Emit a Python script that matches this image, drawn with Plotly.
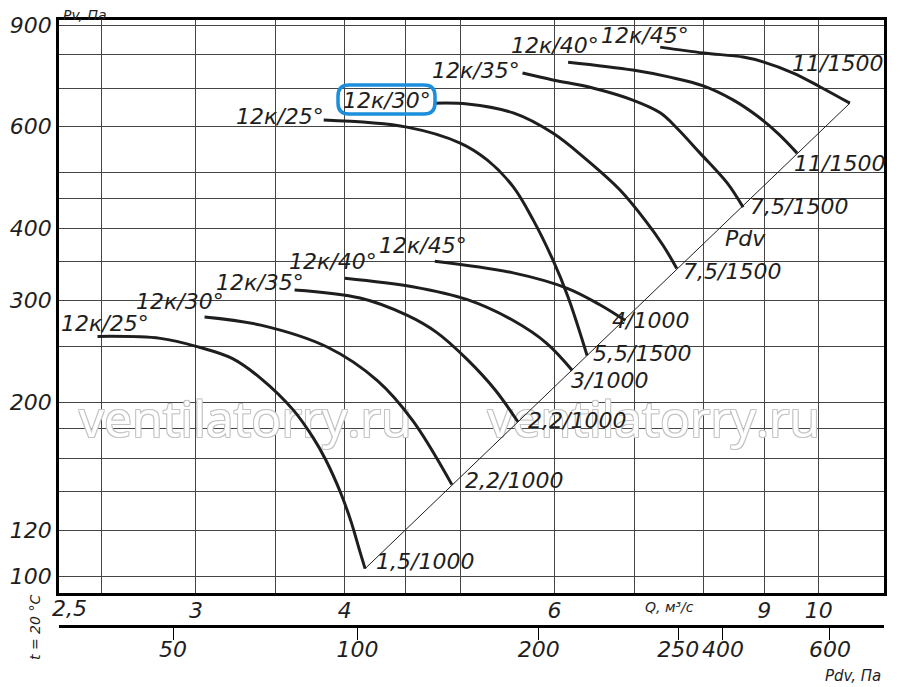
import plotly.graph_objects as go

# Q, m3/s  and  Pv, Pa (fan 12K, 1000 and 1500 rpm)
Q_25_1000 = [2.48, 2.80, 3.02, 3.22, 3.40, 3.62, 3.76, 3.855, 3.97, 4.05, 4.12, 4.16]
P_25_1000 = [260, 258, 249, 238, 220, 194, 174, 159, 139, 124, 110, 103]
Q_30_1000 = [3.05, 3.40, 3.87, 4.26, 4.56, 4.92]
P_30_1000 = [281, 272, 249, 218, 186, 144]
Q_35_1000 = [3.63, 4.12, 4.51, 4.78, 5.07, 5.35, 5.59]
P_35_1000 = [313, 303, 283, 264, 237, 210, 185]
Q_40_1000 = [4.00, 4.56, 5.07, 5.54, 5.91, 6.21]
P_40_1000 = [328, 317, 301, 277, 253, 227]
Q_45_1000 = [4.76, 5.54, 6.15, 6.55, 6.88]
P_45_1000 = [351, 335, 315, 295, 277]

Q_25_1500 = [3.84, 4.51, 5.00, 5.27, 5.54, 5.76, 5.98, 6.16, 6.39]
P_25_1500 = [616, 599, 562, 525, 472, 413, 353, 304, 241]
Q_30_1500 = [4.75, 5.07, 5.54, 5.98, 6.39, 6.81, 7.15, 7.40, 7.60]
P_30_1500 = [659, 657, 634, 585, 525, 466, 413, 374, 341]
Q_35_1500 = [5.64, 5.98, 6.46, 6.98, 7.36, 7.60, 7.95, 8.38, 8.64]
P_35_1500 = [743, 723, 700, 667, 634, 597, 540, 479, 435]
Q_40_1500 = [6.16, 6.98, 7.50, 8.00, 8.48, 8.88, 9.25, 9.59]
P_40_1500 = [776, 752, 731, 706, 667, 626, 583, 540]
Q_45_1500 = [7.36, 8.00, 8.64, 8.98, 9.52, 10.03, 10.62]
P_45_1500 = [824, 805, 792, 777, 743, 703, 659]

# Pdv line through the curve ends
PDV_Q = [4.16, 10.62]
PDV_P = [103, 659]

Q_TICKS = [3, 4, 6, 9, 10]
Q_GRID = [2.5, 3.5, 4.5, 5, 7, 8]
P_TICKS = [100, 120, 200, 300, 400, 600, 900]
P_GRID = [140, 160, 180, 250, 350, 450, 500, 700, 800]
PDV_LABELS = ["50", "100", "200", "250", "400", "600"]
PDV_TICK_Q = [2.87, 4.10, 5.82, 7.62, 8.31, 10.22]

CURVES = [
    (Q_25_1000, P_25_1000), (Q_30_1000, P_30_1000), (Q_35_1000, P_35_1000),
    (Q_40_1000, P_40_1000), (Q_45_1000, P_45_1000),
    (Q_25_1500, P_25_1500), (Q_30_1500, P_30_1500), (Q_35_1500, P_35_1500),
    (Q_40_1500, P_40_1500), (Q_45_1500, P_45_1500),
]

# text labels: (text, x px, y px) in window pixels
LABELS = [
    ("12к/25°", 105, 323), ("12к/30°", 180, 301), ("12к/35°", 260, 282),
    ("12к/40°", 333, 262), ("12к/45°", 423, 246),
    ("12к/25°", 280, 116), ("12к/30°", 387, 100), ("12к/35°", 476, 70),
    ("12к/40°", 555, 45), ("12к/45°", 645, 36),
    ("1,5/1000", 425, 561), ("2,2/1000", 514, 480), ("2,2/1000", 577, 420),
    ("3/1000", 609, 381), ("5,5/1500", 642, 353), ("4/1000", 650, 320),
    ("7,5/1500", 732, 271), ("Pdv", 745, 238), ("7,5/1500", 799, 206),
    ("11/1500", 839, 163), ("11/1500", 837, 64),
]

W, H = 900, 687
OFF = 8  # page body margin
ML, MR, MT, MB = 51, 24, 12, 69
FONT = "DejaVu Sans"
INK = "#1e1e1e"
GRID = "#454545"


def px(x):
    return (x - OFF - ML) / (W - ML - MR)


def py(y):
    return (H - MB - (y - OFF)) / (H - MT - MB)


def rounded_box(x0, y0, x1, y1, r):
    """Rounded rectangle path in paper coords from window pixel corners"""
    rx, ry = r / (W - ML - MR), r / (H - MT - MB)
    a, b, c, d = px(x0), px(x1), py(y1), py(y0)
    return (f"M {a + rx} {c} L {b - rx} {c} Q {b} {c} {b} {c + ry} "
            f"L {b} {d - ry} Q {b} {d} {b - rx} {d} L {a + rx} {d} "
            f"Q {a} {d} {a} {d - ry} L {a} {c + ry} Q {a} {c} {a + rx} {c} Z")


fig = go.Figure()

# watermark, drawn first so the curves sit over it
fig.add_trace(go.Scatter(
    x=[3.30, 7.27], y=[183, 183], mode="text", text=["ventilatorry.ru"] * 2,
    textfont=dict(family="Open Sans", size=50, color="white", style="normal",
                  shadow="-1px -1px 0 #c4c4c4, 1px -1px 0 #c4c4c4, -1px 1px 0 #c4c4c4, 1px 1px 0 #c4c4c4"),
    hoverinfo="skip"))

fig.add_trace(go.Scatter(x=PDV_Q, y=PDV_P, mode="lines", line=dict(color=INK, width=1), hoverinfo="skip"))

for q, p in CURVES:
    fig.add_trace(go.Scatter(x=q, y=p, mode="lines", line=dict(color=INK, width=3, shape="spline", smoothing=1.0)))

# second scale (Pdv) carrier
fig.add_trace(go.Scatter(x=PDV_TICK_Q, y=[None] * len(PDV_TICK_Q), xaxis="x2", mode="markers", hoverinfo="skip"))

for text, x, y in LABELS:
    fig.add_annotation(text=text, x=px(x), y=py(y), xref="paper", yref="paper",
                       xanchor="center", yanchor="middle",
                       showarrow=False, font=dict(size=22, color=INK))

small = [("Pv, Па", 85, 15, 14, 0), ("Q, м³/с", 669, 607, 14, 0),
         ("Pdv, Па", 853, 676, 15, 0), ("t = 20 °C", 35, 628, 14, -90),
         ("2,5", 69, 608, 22, 0)]
for text, x, y, size, ang in small:
    fig.add_annotation(text=text, x=px(x), y=py(y), xref="paper", yref="paper",
                       xanchor="center", yanchor="middle",
                       showarrow=False, textangle=ang, font=dict(size=size, color=INK))

fig.add_shape(type="path", xref="paper", yref="paper", path=rounded_box(338, 85, 435, 114, 11),
              line=dict(color="#1b8fdc", width=3.5))

axis_common = dict(type="log", zeroline=False, ticks="", color=INK, automargin=False)
fig.update_layout(
    width=W, height=H, margin=dict(l=ML, r=MR, t=MT, b=MB, autoexpand=False),
    paper_bgcolor="white", plot_bgcolor="white", showlegend=False,
    font=dict(family=FONT, size=22, color=INK, style="italic"),
    xaxis=dict(**axis_common, range=[0.3621, 1.0548], tickvals=Q_TICKS,
               ticktext=[str(t) for t in Q_TICKS], ticklabelstandoff=-4,
               showgrid=True, gridcolor=GRID, gridwidth=1,
               minor=dict(tickvals=Q_GRID, showgrid=True, gridcolor=GRID, gridwidth=1),
               showline=True, mirror=True, linecolor="black", linewidth=2.5),
    yaxis=dict(**axis_common, range=[1.9707, 2.9629], domain=[(626 - 593) / (H - MT - MB), 1],
               tickvals=P_TICKS, ticktext=[str(t) for t in P_TICKS],
               showgrid=True, gridcolor=GRID, gridwidth=1,
               minor=dict(tickvals=P_GRID, showgrid=True, gridcolor=GRID, gridwidth=1),
               showline=True, mirror=True, linecolor="black", linewidth=2.5),
    xaxis2=dict(type="log", range=[0.3621, 1.0548], overlaying="x", anchor="free", position=0,
                side="bottom", tickvals=PDV_TICK_Q, ticktext=PDV_LABELS, ticks="outside",
                ticklen=12, tickwidth=1, tickcolor="black", ticklabelstandoff=-9,
                showgrid=False, zeroline=False, showline=True, linecolor="black",
                linewidth=2.5, color=INK, automargin=False),
)

fig.write_html("out.html")
